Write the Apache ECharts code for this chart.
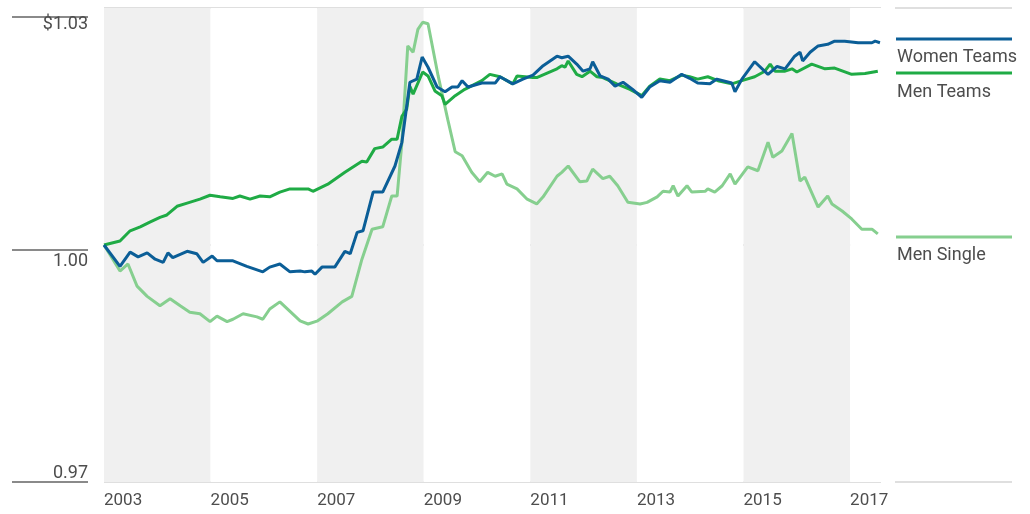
<!DOCTYPE html>
<html>
<head>
<meta charset="utf-8">
<script src="https://cdn.jsdelivr.net/npm/echarts@6/dist/echarts.min.js"></script>
<style>
  html, body { margin: 0; padding: 0; background: #fff; }
  #chart { width: 1030px; height: 514px; }
</style>
</head>
<body>
<div id="chart"></div>
<script>
  // growth of $1 as [decimal year, value]
  var womenTeams = [
    [2003.00,1.0000],[2003.30,0.9973],[2003.49,0.9991],[2003.64,0.9985],[2003.81,0.9990],[2003.96,0.9982],
    [2004.11,0.9978],[2004.20,0.9990],[2004.29,0.9984],[2004.56,0.9992],[2004.74,0.9989],[2004.86,0.9978],
    [2005.03,0.9986],[2005.12,0.9980],[2005.42,0.9980],[2005.68,0.9973],[2005.98,0.9966],[2006.11,0.9972],
    [2006.30,0.9976],[2006.49,0.9966],[2006.68,0.9967],[2006.77,0.9966],[2006.90,0.9967],[2006.96,0.9963],
    [2007.09,0.9972],[2007.33,0.9972],[2007.52,0.9992],[2007.62,0.9989],[2007.75,1.0016],[2007.86,1.0018],
    [2008.05,1.0067],[2008.23,1.0067],[2008.46,1.0100],[2008.59,1.0130],[2008.74,1.0206],[2008.87,1.0210],
    [2008.97,1.0238],[2009.08,1.0225],[2009.25,1.0200],[2009.40,1.0194],[2009.53,1.0200],[2009.64,1.0200],
    [2009.72,1.0208],[2009.83,1.0200],[2010.09,1.0205],[2010.34,1.0205],[2010.43,1.0213],[2010.67,1.0204],
    [2010.86,1.0210],[2011.05,1.0215],[2011.24,1.0227],[2011.50,1.0239],[2011.59,1.0237],[2011.71,1.0239],
    [2011.87,1.0229],[2011.99,1.0220],[2012.12,1.0223],[2012.17,1.0232],[2012.31,1.0214],[2012.46,1.0210],
    [2012.59,1.0201],[2012.74,1.0206],[2012.92,1.0197],[2013.09,1.0187],[2013.24,1.0200],[2013.43,1.0208],
    [2013.62,1.0206],[2013.84,1.0216],[2013.99,1.0211],[2014.14,1.0205],[2014.37,1.0204],[2014.50,1.0210],
    [2014.78,1.0205],[2014.84,1.0194],[2014.97,1.0210],[2015.21,1.0232],[2015.46,1.0216],[2015.63,1.0226],
    [2015.78,1.0223],[2015.96,1.0239],[2016.06,1.0244],[2016.11,1.0233],[2016.25,1.0244],[2016.40,1.0252],
    [2016.58,1.0254],[2016.71,1.0258],[2016.90,1.0258],[2017.15,1.0256],[2017.41,1.0256],[2017.47,1.0258],
    [2017.56,1.0256]
  ];
  var menTeams = [
    [2003.00,1.0000],[2003.30,1.0005],[2003.49,1.0018],[2003.68,1.0023],[2003.86,1.0029],[2004.05,1.0035],
    [2004.18,1.0038],[2004.37,1.0049],[2004.56,1.0053],[2004.80,1.0058],[2004.99,1.0063],[2005.18,1.0061],
    [2005.42,1.0059],[2005.55,1.0062],[2005.74,1.0058],[2005.93,1.0062],[2006.11,1.0061],[2006.30,1.0067],
    [2006.49,1.0071],[2006.68,1.0071],[2006.83,1.0071],[2006.92,1.0068],[2007.20,1.0077],[2007.52,1.0092],
    [2007.84,1.0106],[2007.93,1.0105],[2008.08,1.0122],[2008.23,1.0124],[2008.40,1.0134],[2008.50,1.0134],
    [2008.59,1.0163],[2008.68,1.0172],[2008.74,1.0201],[2008.80,1.0191],[2008.98,1.0219],[2009.08,1.0214],
    [2009.21,1.0195],[2009.34,1.0189],[2009.40,1.0178],[2009.59,1.0189],[2009.77,1.0197],[2010.09,1.0208],
    [2010.24,1.0216],[2010.43,1.0213],[2010.67,1.0204],[2010.75,1.0214],[2011.05,1.0212],[2011.12,1.0212],
    [2011.50,1.0223],[2011.59,1.0227],[2011.65,1.0225],[2011.71,1.0233],[2011.87,1.0216],[2011.97,1.0213],
    [2012.12,1.0220],[2012.25,1.0213],[2012.36,1.0212],[2012.62,1.0204],[2012.87,1.0197],[2013.09,1.0189],
    [2013.24,1.0201],[2013.43,1.0210],[2013.62,1.0208],[2013.84,1.0215],[2013.99,1.0213],[2014.14,1.0210],
    [2014.33,1.0213],[2014.52,1.0208],[2014.78,1.0204],[2014.97,1.0208],[2015.21,1.0213],[2015.40,1.0220],
    [2015.50,1.0229],[2015.59,1.0220],[2015.78,1.0220],[2015.91,1.0223],[2016.00,1.0219],[2016.28,1.0229],
    [2016.53,1.0223],[2016.71,1.0224],[2017.03,1.0216],[2017.28,1.0217],[2017.52,1.0220]
  ];
  var menSingle = [
    [2003.00,1.0000],[2003.30,0.9967],[2003.45,0.9976],[2003.62,0.9948],[2003.81,0.9935],[2004.05,0.9923],
    [2004.24,0.9932],[2004.43,0.9923],[2004.61,0.9915],[2004.80,0.9913],[2004.99,0.9903],[2005.12,0.9910],
    [2005.31,0.9903],[2005.42,0.9906],[2005.61,0.9913],[2005.87,0.9909],[2005.98,0.9906],[2006.11,0.9919],
    [2006.30,0.9928],[2006.49,0.9916],[2006.68,0.9904],[2006.83,0.9900],[2007.01,0.9904],[2007.20,0.9913],
    [2007.47,0.9928],[2007.65,0.9935],[2007.84,0.9982],[2008.03,1.0020],[2008.23,1.0023],[2008.40,1.0062],
    [2008.50,1.0062],[2008.59,1.0130],[2008.70,1.0252],[2008.80,1.0244],[2008.89,1.0273],[2008.98,1.0282],
    [2009.08,1.0280],[2009.27,1.0214],[2009.45,1.0159],[2009.59,1.0118],[2009.72,1.0113],[2009.90,1.0092],
    [2010.05,1.0080],[2010.20,1.0092],[2010.34,1.0087],[2010.47,1.0090],[2010.56,1.0077],[2010.75,1.0071],
    [2010.94,1.0058],[2011.12,1.0052],[2011.24,1.0061],[2011.50,1.0087],[2011.59,1.0092],[2011.71,1.0100],
    [2011.93,1.0080],[2012.06,1.0081],[2012.17,1.0096],[2012.36,1.0084],[2012.49,1.0087],[2012.64,1.0075],
    [2012.83,1.0054],[2013.06,1.0052],[2013.19,1.0054],[2013.38,1.0061],[2013.49,1.0068],[2013.62,1.0067],
    [2013.68,1.0075],[2013.77,1.0062],[2013.94,1.0075],[2014.03,1.0067],[2014.28,1.0068],[2014.33,1.0071],
    [2014.46,1.0067],[2014.60,1.0075],[2014.75,1.0090],[2014.84,1.0077],[2015.08,1.0099],[2015.27,1.0094],
    [2015.46,1.0130],[2015.55,1.0111],[2015.72,1.0119],[2015.91,1.0141],[2016.06,1.0081],[2016.15,1.0086],
    [2016.40,1.0048],[2016.58,1.0062],[2016.66,1.0052],[2016.85,1.0043],[2017.03,1.0033],[2017.22,1.0020],
    [2017.41,1.0020],[2017.52,1.0014]
  ];
  var seriesNames = ['Women Teams', 'Men Teams', 'Men Single'];
  var seriesColors = ['#0b5e97', '#1fab45', '#86cf8f'];
  var yTicks = [0.97, 1.00, 1.03];
  var xStart = 2003, xEnd = 2017.58;

  var FONT = 'Roboto';
  var textColor = '#4d4d4d';

  var chart = echarts.init(document.getElementById('chart'));

  var option = {
    animation: false,
    backgroundColor: '#fff',
    textStyle: { fontFamily: FONT },
    grid: [
      { left: 104, right: 149, top: 8, bottom: 32 },
      { left: 12, width: 76, top: 8, bottom: 32 }
    ],
    xAxis: [
      {
        type: 'value', gridIndex: 0, min: xStart, max: xEnd, interval: 2,
        axisLine: { show: false }, axisTick: { show: false }, splitLine: { show: false },
        splitArea: { show: true, areaStyle: { color: ['#f0f0f0', '#ffffff'] } },
        axisLabel: {
          showMaxLabel: false, align: 'left', margin: 10,
          fontFamily: FONT, fontSize: 17, color: textColor,
          formatter: function (v) { return String(Math.round(v)); }
        }
      },
      { type: 'value', gridIndex: 1, min: 0, max: 1, show: false }
    ],
    yAxis: [
      {
        type: 'value', gridIndex: 0, min: yTicks[0], max: yTicks[2], interval: 0.03,
        axisLine: { show: false }, axisTick: { show: false }, axisLabel: { show: false },
        splitLine: { show: true, lineStyle: { color: ['#d4d4d4', '#bdbdbd', '#d4d4d4'], width: 1.5 } }
      },
      {
        type: 'value', gridIndex: 1, position: 'right', min: yTicks[0], max: yTicks[2], interval: 0.03,
        axisLine: { show: false }, axisTick: { show: false },
        splitLine: { show: true, lineStyle: { color: '#8a8a8a', width: 2 } },
        axisLabel: {
          inside: true, margin: 0,
          formatter: function (v) {
            if (Math.abs(v - yTicks[0]) < 1e-6) return '{lo|' + v.toFixed(2) + '}';
            if (Math.abs(v - yTicks[2]) < 1e-6) return '{top|$' + v.toFixed(2) + '}';
            return '{mid|' + v.toFixed(2) + '}';
          },
          rich: {
            top: { fontFamily: FONT, fontSize: 18, color: textColor, lineHeight: 20, padding: [15, 0, 0, 0] },
            mid: { fontFamily: FONT, fontSize: 18, color: textColor, lineHeight: 20, padding: [24, 0, 0, 0] },
            lo: { fontFamily: FONT, fontSize: 18, color: textColor, lineHeight: 20, padding: [0, 0, 17, 0] }
          }
        }
      }
    ],
    series: [
      { name: seriesNames[2], type: 'line', data: menSingle, showSymbol: false, lineStyle: { width: 3, color: seriesColors[2] }, z: 2 },
      { name: seriesNames[1], type: 'line', data: menTeams, showSymbol: false, lineStyle: { width: 3, color: seriesColors[1] }, z: 3 },
      { name: seriesNames[0], type: 'line', data: womenTeams, showSymbol: false, lineStyle: { width: 3, color: seriesColors[0] }, z: 4 }
    ],
    graphic: [
      // right-hand key column
      { type: 'line', shape: { x1: 895, y1: 8, x2: 1012, y2: 8 }, style: { stroke: '#d4d4d4', lineWidth: 1.5 } },
      { type: 'line', shape: { x1: 895, y1: 482, x2: 1012, y2: 482 }, style: { stroke: '#d4d4d4', lineWidth: 1.5 } },
      { type: 'line', shape: { x1: 896, y1: 39, x2: 1012, y2: 39 }, style: { stroke: seriesColors[0], lineWidth: 3 } },
      { type: 'text', left: 897, top: 48, style: { text: seriesNames[0], font: '18px ' + FONT, fill: textColor } },
      { type: 'line', shape: { x1: 896, y1: 73, x2: 1012, y2: 73 }, style: { stroke: seriesColors[1], lineWidth: 3 } },
      { type: 'text', left: 897, top: 83, style: { text: seriesNames[1], font: '18px ' + FONT, fill: textColor } },
      { type: 'line', shape: { x1: 896, y1: 237, x2: 1012, y2: 237 }, style: { stroke: seriesColors[2], lineWidth: 3 } },
      { type: 'text', left: 897, top: 246, style: { text: seriesNames[2], font: '18px ' + FONT, fill: textColor } }
    ]
  };
  chart.setOption(option);
</script>
</body>
</html>
